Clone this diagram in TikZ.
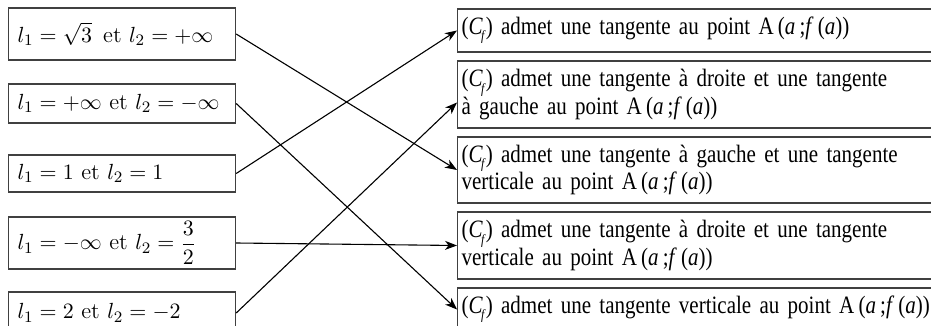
\documentclass[tikz,border=0pt]{standalone}
\usepackage{amsmath}
\usepackage{fontspec}
\newfontfamily\timesfont[FakeStretch=0.84]{Liberation Serif}
\usetikzlibrary{arrows.meta}
\newcommand{\tangentfont}{\timesfont\fontsize{12.5}{13.6}\selectfont}
\newcommand{\Cf}{(\textit{C}\kern-0.8pt\raisebox{-0.55ex}{\scriptsize\textit{f}})}
\newcommand{\ptA}{A\,(\textit{a}\,;\textit{f}\,(\textit{a}))}

\begin{document}
\begin{tikzpicture}[x=0.5pt, y=-0.5pt, >={Stealth[length=6pt, width=4.5pt, inset=1.8pt]},
limitnode/.style={rectangle, draw=black!75, line width=0.6pt, anchor=west, inner xsep=4.5pt, inner ysep=1pt, text width=104.5pt, align=left, font=\fontsize{11.3}{14}\selectfont},
tangentnode/.style={rectangle, draw=black!75, line width=0.6pt, anchor=west, inner xsep=2pt, inner ysep=1pt, text width=246pt, align=left, font=\tangentfont},
]
\useasboundingbox (0,0) rectangle (931,326);
%Nodes
\node[limitnode, minimum height=26pt]      (L1)   at (8,34)      {\mbox{$l_1 = \sqrt{3}\,$ et $l_2 = +\infty$}};
\node[limitnode, minimum height=19.5pt]    (L2)   at (8,103.5)   {\mbox{$l_1 = +\infty$ et $l_2 = -\infty$}};
\node[limitnode, minimum height=18.5pt]    (L3)   at (8,173.5)   {\mbox{$l_1 = 1$ et $l_2 = 1$}};
\node[limitnode, minimum height=26pt]      (L4)   at (8,243)     {\mbox{$l_1 = -\infty$ et $l_2 = \dfrac{3}{2}$}};
\node[limitnode, minimum height=21pt]      (L5)   at (8,313)     {\mbox{$l_1 = 2$ et $l_2 = -2$}};
\node[tangentnode, minimum height=21.5pt]  (T1)   at (457,30.5)  {\Cf{} admet une tangente au point \ptA};
\node[tangentnode, minimum height=33.5pt]  (T2)   at (457,94.5)  {\Cf{} admet une tangente à droite et une tangente\\ à gauche au point \ptA};
\node[tangentnode, minimum height=33pt]    (T3)   at (457,170)   {\Cf{} admet une tangente à gauche et une tangente\\ verticale au point \ptA};
\node[tangentnode, minimum height=33.5pt]  (T4)   at (457,245.5) {\Cf{} admet une tangente à droite et une tangente\\ verticale au point \ptA};
\node[tangentnode, minimum height=21.5pt]  (T5)   at (457,309.5) {\mbox{\Cf{} admet une tangente verticale au point \ptA}};

%Lines
\draw[->, line width=0.55pt] (L1.east) -- (T3.west);
\draw[->, line width=0.55pt] (L2.east) -- (T5.west);
\draw[->, line width=0.55pt] (L3.east) -- (T1.west);
\draw[->, line width=0.55pt] (L4.east) -- (T4.west);
\draw[->, line width=0.55pt] (L5.east) -- ([yshift=-4pt]T2.west);
\end{tikzpicture}
\end{document}
